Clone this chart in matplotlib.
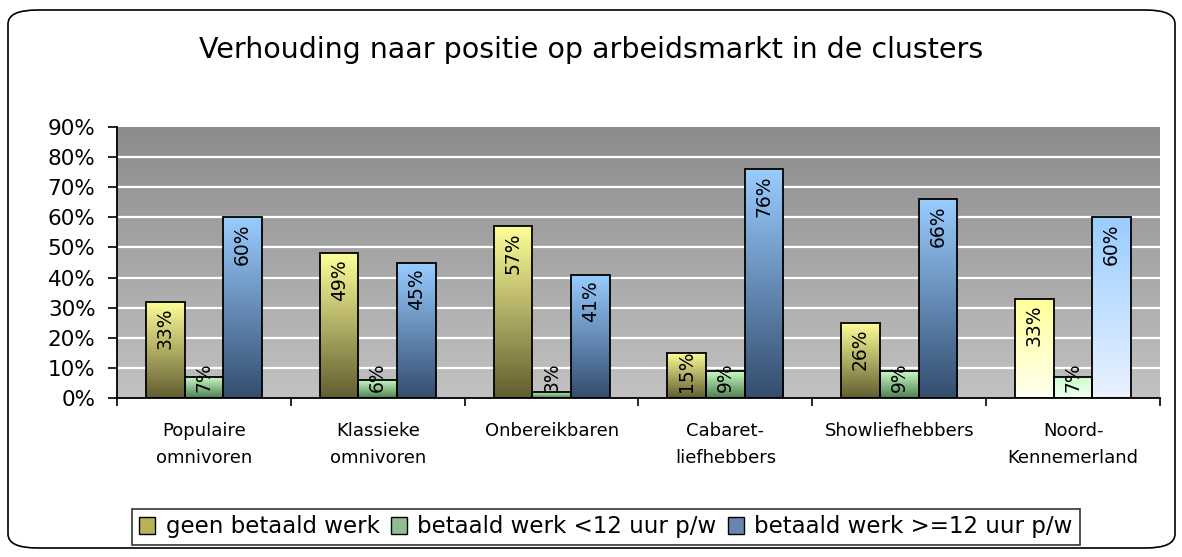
import numpy as np
import matplotlib
matplotlib.use("Agg")
import matplotlib.pyplot as plt
from matplotlib.colors import LinearSegmentedColormap
from matplotlib.patches import FancyBboxPatch, Patch

plt.rcParams['font.family'] = ['DejaVu Sans']

# --- data ---
categories = ["Populaire\nomnivoren", "Klassieke\nomnivoren", "Onbereikbaren",
              "Cabaret-\nliefhebbers", "Showliefhebbers", "Noord-\nKennemerland"]
series = ["geen betaald werk", "betaald werk <12 uur p/w", "betaald werk >=12 uur p/w"]
geen_werk = [32, 48, 57, 15, 25, 33]
werk_lt12 = [7, 6, 2, 9, 9, 7]
werk_ge12 = [60, 45, 41, 76, 66, 60]
label_geen = ["33%", "49%", "57%", "15%", "26%", "33%"]
label_lt12 = ["7%", "6%", "3%", "9%", "9%", "7%"]
label_ge12 = ["60%", "45%", "41%", "76%", "66%", "60%"]
yticks = [0, 10, 20, 30, 40, 50, 60, 70, 80, 90]

# gradient colours (bottom, top); last group (Noord-Kennemerland) is pale
grad_normal = [("#625d30", "#ffff99"), ("#4f7f4f", "#ccffcc"), ("#334d6e", "#99ccff")]
grad_pale = [("#fffff0", "#ffff99"), ("#f0fff0", "#ccffcc"), ("#eaf2ff", "#99ccff")]
legend_cols = ["#b8b05a", "#8fbf8f", "#6688b0"]


def gradient_bar(ax, bar, c_bottom, c_top):
    x, y = bar.get_x(), bar.get_y()
    w, h = bar.get_width(), bar.get_height()
    cmap = LinearSegmentedColormap.from_list("g", [c_bottom, c_top])
    grad = np.linspace(0, 1, 256).reshape(-1, 1)
    im = ax.imshow(grad, cmap=cmap, aspect="auto", origin="lower",
                   extent=(x, x + w, y, y + h), zorder=2)
    im.set_clip_path(bar)


fig = plt.figure(figsize=(11.82, 5.57), dpi=100)
fig.patch.set_facecolor("white")

# rounded outer border
border = FancyBboxPatch((8 / 1182, 1 - 548 / 557), (1175 - 8) / 1182, (548 - 10) / 557,
                        boxstyle="round,pad=0,rounding_size=0.025",
                        transform=fig.transFigure, facecolor="none",
                        edgecolor="black", linewidth=1.2, zorder=0)
fig.patches.append(border)

ax = fig.add_axes([117 / 1182, 1 - 398 / 557, (1160 - 117) / 1182, (398 - 127) / 557])

# gray gradient background
bg = LinearSegmentedColormap.from_list("bg", ["#c2c2c2", "#8c8c8c"])
ax.imshow(np.linspace(0, 1, 256).reshape(-1, 1), cmap=bg, aspect="auto",
          origin="lower", extent=(0, 1, 0, 1), transform=ax.transAxes, zorder=0)

n = len(categories)
x = np.arange(n)
bw = 1 / 4.5
values = [geen_werk, werk_lt12, werk_ge12]
labels = [label_geen, label_lt12, label_ge12]

for i, (vals, labs) in enumerate(zip(values, labels)):
    bars = ax.bar(x + (i - 1) * bw, vals, width=bw, facecolor="none",
                  edgecolor="black", linewidth=1.3, zorder=3)
    for j, b in enumerate(bars):
        cb, ct = grad_pale[i] if j == n - 1 else grad_normal[i]
        gradient_bar(ax, b, cb, ct)
        v = vals[j]
        if v > 20:
            ax.text(b.get_x() + bw / 2, v - 2, labs[j], rotation=90, ha="center",
                    va="top", fontsize=13.5, zorder=4)
        else:
            ax.text(b.get_x() + bw / 2, 2, labs[j], rotation=90, ha="center",
                    va="bottom", fontsize=13.5, zorder=4)

ax.set_xlim(-0.5, n - 0.5)
ax.set_ylim(0, 90)
for t in yticks[1:-1]:
    ax.axhline(t, color="white", linewidth=1.6, zorder=1)

ax.set_yticks(yticks)
ax.set_yticklabels([f"{t}%" for t in yticks], fontsize=15.5)
ax.set_xticks(np.arange(-0.5, n, 1))
ax.set_xticklabels([])
ax.set_xticks(x, minor=True)
ax.set_xticklabels(categories, minor=True, fontsize=13, linespacing=1.7)
ax.tick_params(axis="x", which="minor", length=0, pad=17)
ax.tick_params(axis="x", which="major", length=6, direction="out", width=1.2)
ax.tick_params(axis="y", length=6.5, direction="out", width=1.2, pad=9)

for s in ["top", "right"]:
    ax.spines[s].set_visible(False)
for s in ["left", "bottom"]:
    ax.spines[s].set_linewidth(1.3)

fig.text(0.5, 1 - 50 / 557, "Verhouding naar positie op arbeidsmarkt in de clusters",
         ha="center", va="center", fontsize=20.5)

handles = [Patch(facecolor=c, edgecolor="black", linewidth=1) for c in legend_cols]
leg = fig.legend(handles, series, loc="center", bbox_to_anchor=(606 / 1182, 1 - 527 / 557),
                 ncol=3, fontsize=16.5, frameon=True, fancybox=False,
                 handlelength=0.7, handleheight=0.7, handletextpad=0.45,
                 columnspacing=0.5, borderpad=0.3)
leg.get_frame().set_edgecolor("black")
leg.get_frame().set_linewidth(1.2)

fig.savefig("out.png", dpi=100)
